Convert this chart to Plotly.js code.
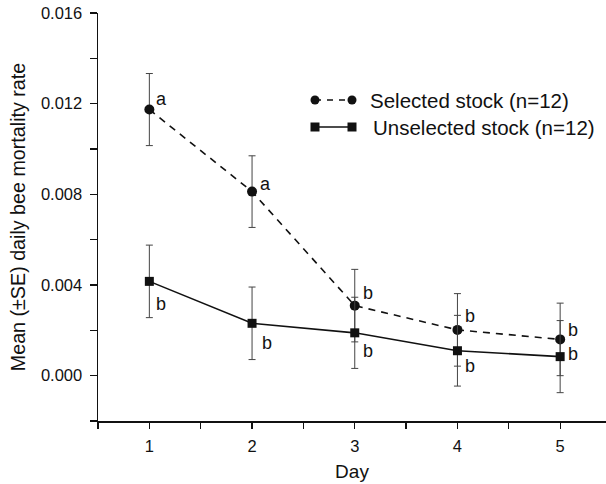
<!DOCTYPE html>
<html>
<head>
<meta charset="utf-8">
<script src="https://cdn.plot.ly/plotly-3.0.1.min.js"></script>
<style>html,body{margin:0;padding:0;background:#fff;overflow:hidden}</style>
</head>
<body>
<div id="chart" style="width:606px;height:484px"></div>
<script>
var days = [1, 2, 3, 4, 5];
var selectedMean = [0.01174, 0.00812, 0.00309, 0.00202, 0.00160];
var selectedSE   = [0.00159, 0.00158, 0.00160, 0.00160, 0.00160];
var unselectedMean = [0.00416, 0.00231, 0.00189, 0.00110, 0.00084];
var unselectedSE   = [0.00160, 0.00160, 0.00157, 0.00156, 0.00159];
var selectedLetters = ['a', 'a', 'b', 'b', 'b'];
var unselectedLetters = ['b', 'b', 'b', 'b', 'b'];
var legendNames = ['Selected stock (n=12)', 'Unselected stock (n=12)'];

var FONT = 'Liberation Sans, Arial, sans-serif';
var W = 606, H = 484, L = 98, T = 13, B = 63, R = 0;
var pw = W - L - R, ph = H - T - B;
function px(x){ return (x - L) / pw; }
function py(y){ return (H - B - y) / ph; }

var errStyle = {type:'data', visible:true, thickness:1, width:3.5, color:'#444'};

var traces = [
  {x: days, y: selectedMean, type:'scatter', mode:'lines+markers', name: legendNames[0],
   line:{color:'#111', width:1.6, dash:'7px,6px'},
   marker:{symbol:'circle', size:10, color:'#111'},
   error_y: Object.assign({array: selectedSE}, errStyle), showlegend:false},
  {x: days, y: unselectedMean, type:'scatter', mode:'lines+markers', name: legendNames[1],
   line:{color:'#111', width:1.6},
   marker:{symbol:'square', size:9, color:'#111'},
   error_y: Object.assign({array: unselectedSE}, errStyle), showlegend:false}
];

var selOff = [[12,-11],[13,-8],[13,-13],[13,-14],[13,-9]];
var unselOff = [[12,23],[15,20],[13,18],[13,15],[13,-3]];
var annotations = [];
days.forEach(function(d,i){
  annotations.push({x:d, y:selectedMean[i], xref:'x', yref:'y', text:selectedLetters[i], showarrow:false,
    xshift:selOff[i][0], yshift:-selOff[i][1], font:{family:FONT, size:18, color:'#111'}});
  annotations.push({x:d, y:unselectedMean[i], xref:'x', yref:'y', text:unselectedLetters[i], showarrow:false,
    xshift:unselOff[i][0], yshift:-unselOff[i][1], font:{family:FONT, size:18, color:'#111'}});
});
annotations.push({x:px(368), y:py(100), xref:'paper', yref:'paper', xanchor:'left', yanchor:'middle',
  text:legendNames[0], showarrow:false, font:{family:FONT, size:20.5, color:'#111'}});
annotations.push({x:px(371), y:py(127), xref:'paper', yref:'paper', xanchor:'left', yanchor:'middle',
  text:legendNames[1], showarrow:false, font:{family:FONT, size:20.5, color:'#111'}});

var shapes = [];
shapes.push({type:'line', xref:'paper', yref:'paper', x0:px(315), x1:px(352), y0:py(100), y1:py(100),
  line:{color:'#111', width:1.6, dash:'6px,6px'}});
[315, 352].forEach(function(c){
  shapes.push({type:'circle', xref:'paper', yref:'paper', x0:px(c-4.5), x1:px(c+4.5), y0:py(100+4.5), y1:py(100-4.5),
    fillcolor:'#111', line:{color:'#111', width:0}});
});
shapes.push({type:'line', xref:'paper', yref:'paper', x0:px(315), x1:px(352), y0:py(127), y1:py(127),
  line:{color:'#111', width:1.6}});
[315, 352].forEach(function(c){
  shapes.push({type:'rect', xref:'paper', yref:'paper', x0:px(c-4.5), x1:px(c+4.5), y0:py(127+4.5), y1:py(127-4.5),
    fillcolor:'#111', line:{color:'#111', width:0}});
});

var layout = {
  width: W, height: H,
  margin: {l:L, r:R, t:T, b:B, pad:0},
  paper_bgcolor:'#fff', plot_bgcolor:'#fff',
  font:{family:FONT, size:16, color:'#111'},
  showlegend:false,
  xaxis:{range:[0.5, 0.5 + pw/102.7], showgrid:false, zeroline:false, showline:true, linecolor:'#111', linewidth:1.5,
    ticks:'outside', ticklen:6, tickwidth:1.3, tickcolor:'#111', tickvals:days, ticktext:days.map(String),
    minor:{tickvals:[0.5,1.5,2.5,3.5,4.5], ticks:'outside', ticklen:6, tickwidth:1.3, tickcolor:'#111', showgrid:false},
    tickfont:{size:16.5, family:FONT}, ticklabelstandoff:4,
    title:{text:'Day', font:{size:19, family:FONT}, standoff:10}},
  yaxis:{range:[-0.002, 0.016], showgrid:false, zeroline:false, showline:true, linecolor:'#111', linewidth:1.5,
    ticks:'outside', ticklen:7, tickwidth:1.3, tickcolor:'#111', tickvals:[0,0.004,0.008,0.012,0.016], tickformat:'.3f',
    minor:{tickvals:[-0.002,0.002,0.006,0.010,0.014], ticks:'outside', ticklen:7, tickwidth:1.3, tickcolor:'#111', showgrid:false},
    tickfont:{size:16.5, family:FONT}, ticklabelstandoff:4,
    title:{text:'Mean (±SE) daily bee mortality rate', font:{size:19.7, family:FONT}, standoff:10}},
  annotations: annotations,
  shapes: shapes
};

Plotly.newPlot('chart', traces, layout, {displayModeBar:false, staticPlot:true});
</script>
</body>
</html>
